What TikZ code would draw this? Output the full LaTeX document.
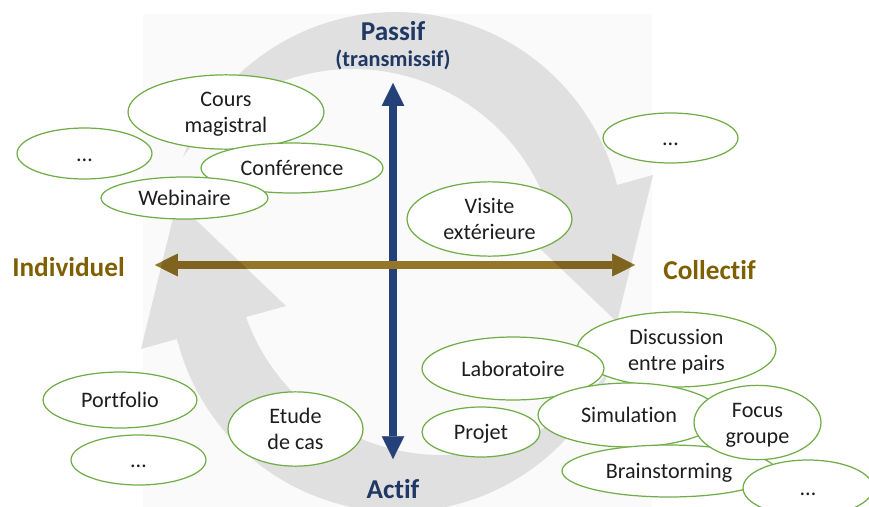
\documentclass[tikz,border=0pt]{standalone}
\usepackage{fontspec}
\setmainfont{Carlito}[Ligatures=NoCommon]
\usetikzlibrary{shapes.geometric,arrows.meta}
\definecolor{navytxt}{HTML}{203864}
\definecolor{navyarrow}{HTML}{24417A}
\definecolor{goldtxt}{HTML}{7F6000}
\definecolor{goldarrow}{HTML}{937628}
\definecolor{golddark}{HTML}{7F6420}
\definecolor{bandgrey}{HTML}{E0E0E0}
\definecolor{bglight}{HTML}{FAFAFA}
\definecolor{egreen}{HTML}{70AD47}
\definecolor{etext}{HTML}{1E1E1E}
\newcommand{\mytop}{\rule{0pt}{12pt}}
\newcommand{\mybot}{\rule[-3.2pt]{0pt}{3.2pt}}
\newcommand{\bandA}{(183,157) arc[start angle=-158.57, end angle=-14.04, radius=228.3]
  -- (653,175) -- (617,322) -- (508,218) -- (548,207)
  arc[start angle=-19.56, end angle=-144.85, radius=207.4] -- cycle}
\newcommand{\bandB}{(611,367) arc[start angle=21.43, end angle=165.96, radius=228.3]
  -- (141,349) -- (177,202) -- (286,306) -- (246,317)
  arc[start angle=160.44, end angle=35.15, radius=207.4] -- cycle}
\tikzset{
  bub/.style 2 args={ellipse, draw=egreen, line width=0.7pt, fill=white,
    inner sep=0pt, align=center, text=etext,
    font=\fontsize{12.6}{14.7}\selectfont,
    minimum width=#1*0.04cm, minimum height=#2*0.04cm},
  biglab/.style={anchor=base, font=\bfseries\fontsize{15.5}{18}\selectfont},
  smalllab/.style={anchor=base, font=\bfseries\fontsize{12.7}{15}\selectfont},
  axis/.style={line width=4.1pt,
    {Triangle[length=13pt,width=12.8pt,line width=0.1pt]}-{Triangle[length=13pt,width=12.8pt,line width=0.1pt]}}
}
\begin{document}
\begin{tikzpicture}[x=0.02cm,y=-0.02cm]
\useasboundingbox (0,0) rectangle (869,507);
\fill[white] (0,0) rectangle (869,507);
\fill[bglight] (143,14) rectangle (652,507);
% circular grey arrows
\fill[bandgrey] \bandA;
\fill[bandgrey] \bandB;
% axes
\coordinate (vt) at (393,83);
\coordinate (vb) at (393,459);
\coordinate (hl) at (155,265);
\coordinate (hr) at (635,265);
\draw[axis, navyarrow] (vt) -- (vb);
\draw[axis, goldarrow] (hl) -- (hr);
\begin{scope}
\clip \bandA;
\draw[axis, golddark] (hl) -- (hr);
\end{scope}
\begin{scope}
\clip \bandB;
\draw[axis, golddark] (hl) -- (hr);
\end{scope}
% labels
\node[biglab, text=navytxt] (passif) at (393,40.5) {Passif};
\node[smalllab, text=navytxt] (transm) at (393,66.5) {(transmissif)};
\node[biglab, text=navytxt] (actif) at (393,498.3) {Actif};
\node[biglab, text=goldtxt] (indiv) at (68.5,276.7) {Individuel};
\node[biglab, text=goldtxt] (coll) at (709.5,279) {Collectif};
% ellipses
\node[bub={67.5}{25.5}] (dotsA) at (84.5,153.5) {\mytop …\mybot};
\node[bub={98}{32}] (cours) at (226,112) {\mytop Cours\\magistral\mybot};
\node[bub={91}{25}] (conf) at (292,168) {\mytop Conférence\mybot};
\node[bub={83.5}{21}] (web) at (184.5,198) {\mytop Webinaire\mybot};
\node[bub={67.5}{25}] (dotsB) at (670.5,138) {\mytop …\mybot};
\node[bub={82.5}{34}] (visite) at (489.5,219) {\mytop Visite\\extérieure\mybot};
\node[bub={77}{28}] (portf) at (120,400) {\mytop Portfolio\mybot};
\node[bub={67.5}{25}] (dotsC) at (138.5,460) {\mytop …\mybot};
\node[bub={67.5}{35}] (etude) at (295.5,429) {\mytop Etude\\de cas\mybot};
\node[bub={99.5}{37.5}] (disc) at (676.5,349.5) {\mytop Discussion\\entre pairs\mybot};
\node[bub={91}{31.5}] (labo) at (513,368.5) {\mytop Laboratoire\mybot};
\node[bub={91}{32}] (simu) at (629,415) {\mytop Simulation\mybot};
\node[bub={59}{25}] (projet) at (481,432) {\mytop Projet\mybot};
\node[bub={107}{26}] (brain) at (669,471) {\mytop Brainstorming\mybot};
\node[bub={63.5}{30.5}] (focus) at (757.5,422.5) {\mytop Focus\\groupe\mybot};
\node[bub={65}{28}] (dotsD) at (808,488) {\mytop …\mybot};
\end{tikzpicture}
\end{document}
